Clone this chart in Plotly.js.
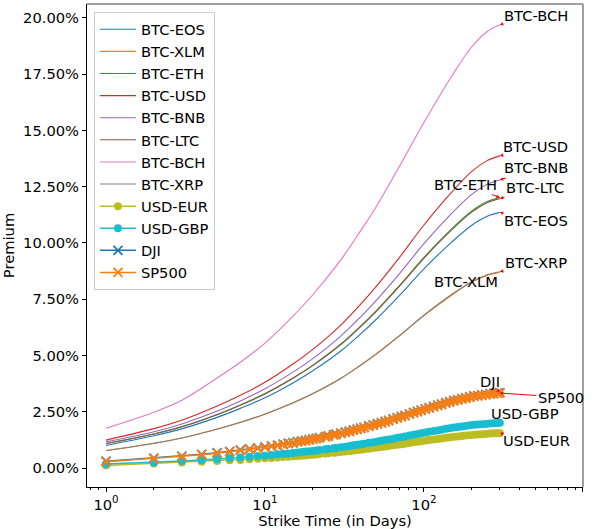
<!DOCTYPE html>
<html>
<head>
<meta charset="utf-8">
<script src="https://cdn.plot.ly/plotly-3.0.1.min.js"></script>
<style>html,body{margin:0;padding:0;background:#fff;}#chart{width:595px;height:529px;}</style>
</head>
<body>
<div id="chart"></div>
<script>
// ---- data (premium in %) ----
const btcDays = [1,2,3,5,7,10,15,20,30,40,50,70,100,150,200,250,300];
const btcEOS = [1.00,1.43,1.74,2.25,2.65,3.12,3.78,4.32,5.20,5.96,6.60,7.66,8.85,10.05,10.79,11.19,11.36];
const btcXLM = [0.77,1.09,1.33,1.72,2.02,2.39,2.89,3.30,3.98,4.56,5.05,5.86,6.77,7.69,8.26,8.56,8.69];
const btcETH = [1.09,1.51,1.84,2.38,2.80,3.31,4.00,4.57,5.51,6.31,6.98,8.10,9.36,10.64,11.42,11.84,12.02];
const btcUSD = [1.24,1.75,2.12,2.75,3.23,3.81,4.62,5.27,6.35,7.28,8.06,9.35,10.80,12.27,13.18,13.66,13.87];
const btcBNB = [1.16,1.61,1.96,2.53,2.98,3.52,4.26,4.86,5.86,6.72,7.44,8.63,9.97,11.33,12.16,12.61,12.80];
const btcLTC = [1.08,1.51,1.83,2.37,2.79,3.29,3.99,4.55,5.48,6.28,6.95,8.07,9.32,10.59,11.37,11.79,11.97];
const btcBCH = [1.77,2.48,3.01,4.00,4.70,5.55,6.75,7.70,9.25,10.55,11.60,13.40,15.35,17.43,18.72,19.40,19.70];
const btcXRP = [0.78,1.10,1.33,1.73,2.03,2.40,2.90,3.31,3.99,4.58,5.07,5.88,6.79,7.72,8.28,8.59,8.72];

const days = [1,2,3,4,5,6,7,8,9,10,11,12,13,14,15,16,17,18,19,20,21,22,24,25,27,28,30,32,34,36,38,40,42,45,48,51,54,57,60,64,68,72,76,81,86,91,96,102,108,115,122,129,137,145,154,163,173,183,194,206,218,231,245,260,275,290,300];
const usdEUR = [0.11,0.20,0.24,0.28,0.31,0.34,0.36,0.39,0.41,0.43,0.45,0.47,0.49,0.50,0.52,0.53,0.55,0.56,0.58,0.59,0.60,0.62,0.64,0.66,0.68,0.69,0.71,0.73,0.75,0.78,0.80,0.81,0.83,0.86,0.89,0.91,0.93,0.96,0.98,1.01,1.03,1.06,1.08,1.11,1.14,1.17,1.19,1.22,1.24,1.27,1.29,1.31,1.34,1.36,1.39,1.40,1.42,1.44,1.46,1.48,1.49,1.50,1.51,1.53,1.54,1.54,1.55];
const usdGBP = [0.18,0.25,0.31,0.36,0.40,0.44,0.47,0.50,0.53,0.55,0.58,0.61,0.63,0.65,0.67,0.69,0.71,0.73,0.75,0.76,0.78,0.80,0.83,0.85,0.88,0.89,0.92,0.95,0.98,1.01,1.03,1.06,1.08,1.12,1.15,1.18,1.21,1.24,1.27,1.30,1.34,1.37,1.40,1.44,1.48,1.51,1.54,1.58,1.61,1.64,1.67,1.70,1.74,1.77,1.80,1.82,1.85,1.87,1.90,1.92,1.93,1.95,1.96,1.98,1.99,2.00,2.01];
const dji = [0.30,0.44,0.53,0.61,0.68,0.74,0.80,0.85,0.89,0.94,0.98,1.02,1.06,1.10,1.13,1.17,1.20,1.23,1.26,1.29,1.32,1.35,1.40,1.43,1.48,1.50,1.55,1.60,1.64,1.69,1.73,1.77,1.81,1.87,1.92,1.97,2.02,2.07,2.12,2.18,2.24,2.29,2.34,2.41,2.47,2.52,2.57,2.63,2.68,2.74,2.79,2.84,2.90,2.95,3.00,3.04,3.08,3.12,3.16,3.20,3.22,3.25,3.27,3.30,3.32,3.34,3.35];
const sp500 = [0.28,0.42,0.51,0.59,0.66,0.72,0.78,0.83,0.87,0.92,0.96,1.00,1.04,1.08,1.11,1.15,1.18,1.21,1.24,1.27,1.30,1.33,1.38,1.41,1.46,1.48,1.53,1.58,1.62,1.67,1.71,1.75,1.79,1.85,1.90,1.95,2.00,2.05,2.10,2.16,2.22,2.27,2.32,2.39,2.45,2.50,2.55,2.61,2.66,2.72,2.77,2.82,2.88,2.93,2.98,3.02,3.06,3.10,3.14,3.18,3.20,3.23,3.25,3.28,3.30,3.32,3.33];

const yTicks = [0,2.5,5,7.5,10,12.5,15,17.5,20];
const yTickText = yTicks.map(v => v.toFixed(2) + '%');
const xTicks = [1,10,100,1000];
const xTickText = ['10<sup>0</sup>','10<sup>1</sup>','10<sup>2</sup>','10<sup>3</sup>'];

// ---- styling ----
const C = ['#1f77b4','#ff7f0e','#2ca02c','#d62728','#9467bd','#8c564b','#e377c2','#7f7f7f','#bcbd22','#17becf'];
const FONT = 'DejaVu Sans, Verdana, sans-serif';
const FS = 14.7;

const lineSeries = [
  ['BTC-EOS', btcEOS, C[0]], ['BTC-XLM', btcXLM, C[1]], ['BTC-ETH', btcETH, C[2]],
  ['BTC-USD', btcUSD, C[3]], ['BTC-BNB', btcBNB, C[4]], ['BTC-LTC', btcLTC, C[5]],
  ['BTC-BCH', btcBCH, C[6]], ['BTC-XRP', btcXRP, C[7]]
];
const traces = [];
lineSeries.forEach(([name, ys, col]) => {
  traces.push({x: btcDays, y: ys, name: name, mode: 'lines', type: 'scatter',
    line: {color: col, width: 1.1, shape: 'spline', smoothing: 1}});
});
const markerSeries = [
  ['USD-EUR', usdEUR, C[8], 'circle'], ['USD-GBP', usdGBP, C[9], 'circle'],
  ['DJI', dji, C[0], 'x-thin'], ['SP500', sp500, C[1], 'x-thin']
];
markerSeries.forEach(([name, ys, col, sym]) => {
  const mk = sym === 'circle'
    ? {symbol: 'circle', size: 8, color: col, line: {width: 0}}
    : {symbol: 'x-thin', size: 9, color: col, line: {width: 1.8, color: col}};
  traces.push({x: days, y: ys, name: name, mode: 'lines+markers', type: 'scatter',
    line: {color: col, width: 1.5}, marker: mk});
});

// annotations at the last point of each series: [label, series, xOffsetPx, yOffsetPx]
const labels = [
  ['BTC-BCH', btcBCH, 36, -9], ['BTC-USD', btcUSD, 36, -9], ['BTC-BNB', btcBNB, 36, -12],
  ['BTC-LTC', btcLTC, 35, -11], ['BTC-ETH', btcETH, -34, -13], ['BTC-EOS', btcEOS, 36, 8],
  ['BTC-XRP', btcXRP, 36, -9], ['BTC-XLM', btcXLM, -34, 9], ['DJI', dji, -10, -11],
  ['SP500', sp500, 61, 4], ['USD-GBP', usdGBP, 25, -9], ['USD-EUR', usdEUR, 37, 7]
];
const annotations = labels.map(([t, ys, ax, ay]) => ({
  x: Math.log10(days[days.length - 1]), y: ys[ys.length - 1], xref: 'x', yref: 'y',
  text: t, showarrow: true, ax: ax, ay: ay, arrowcolor: 'red', arrowwidth: 1,
  arrowhead: 2, arrowsize: 0.7, font: {family: FONT, size: FS, color: '#000'}
}));

const minorVals = [];
[0.1, 1, 10, 100].forEach(b => { for (let k = 2; k <= 9; k++) minorVals.push(b * k); });

const layout = {
  width: 595, height: 529,
  margin: {l: 87, r: 12, t: 4, b: 42},
  paper_bgcolor: '#fff', plot_bgcolor: '#fff',
  font: {family: FONT, size: FS, color: '#000'},
  showlegend: true,
  legend: {x: 0.014, y: 0.983, xanchor: 'left', yanchor: 'top', bgcolor: 'rgba(255,255,255,0.8)',
    bordercolor: '#cccccc', borderwidth: 1, font: {family: FONT, size: FS}, itemwidth: 36},
  xaxis: {type: 'log', range: [-0.1195, 3.0005], tickmode: 'array', tickvals: xTicks, ticktext: xTickText,
    ticks: 'outside', ticklen: 4, tickcolor: '#000', showline: true, linecolor: '#000', linewidth: 1,
    showgrid: false, zeroline: false, tickfont: {size: FS},
    minor: {tickmode: 'array', tickvals: minorVals, ticks: 'outside', ticklen: 2, tickcolor: '#000', showgrid: false},
    title: {text: 'Strike Time (in Days)', font: {size: FS}, standoff: 3}},
  yaxis: {range: [-0.844, 20.62], tickmode: 'array', tickvals: yTicks, ticktext: yTickText,
    ticks: 'outside', ticklen: 4, tickcolor: '#000', showline: true, linecolor: '#000', linewidth: 1,
    showgrid: false, zeroline: false, tickfont: {size: FS},
    title: {text: 'Premium', font: {size: FS}, standoff: 5}},
  shapes: [
    {type: 'line', xref: 'paper', yref: 'paper', x0: 0, x1: 1, y0: 1, y1: 1, line: {color: '#808080', width: 1.5}},
    {type: 'line', xref: 'paper', yref: 'paper', x0: 1, x1: 1, y0: 0, y1: 1, line: {color: '#808080', width: 1.5}}
  ],
  annotations: annotations
};
Plotly.newPlot('chart', traces, layout, {staticPlot: true, displayModeBar: false});
</script>
</body>
</html>
